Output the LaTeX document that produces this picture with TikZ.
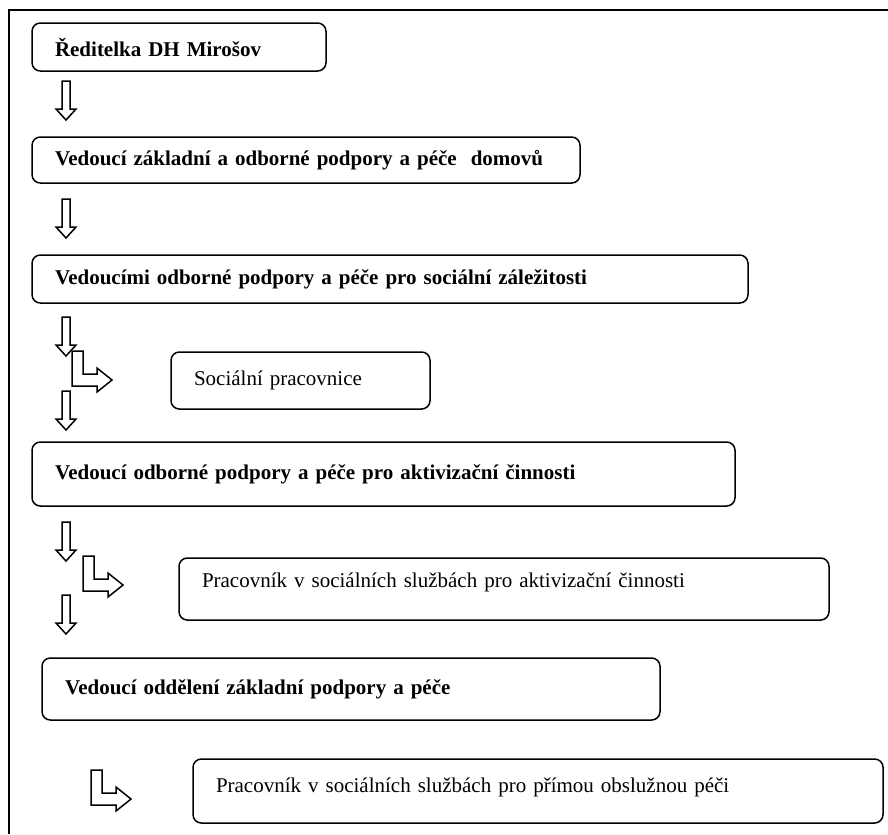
\documentclass[tikz,border=0pt]{standalone}
\usepackage{fontspec}
\setmainfont{Liberation Serif}
\tikzset{
  box/.style={draw, rounded corners=5pt, line width=0.9pt, anchor=north west,
    align=left, inner xsep=13.8pt, outer sep=0pt, font=\fontsize{12.6}{14}\selectfont},
  head/.style={box, font=\fontsize{12.6}{14}\selectfont\bfseries},
  arr/.style={draw, line width=0.9pt, line join=miter, fill=white},
  frame/.style={draw, line width=0.9pt}
}
% sipka dolu: stred x, horni y
\newcommand{\dnarr}[2]{\draw[arr] (#1-4,#2) -- (#1+4,#2) -- (#1+4,#2+28) -- (#1+10,#2+28) -- (#1,#2+39) -- (#1-10,#2+28) -- (#1-4,#2+28) -- cycle;}
% lomena sipka: levy x, horni y
\newcommand{\turnarr}[2]{\draw[arr] (#1,#2) -- (#1+11,#2) -- (#1+11,#2+23) -- (#1+25,#2+23) -- (#1+25,#2+17) -- (#1+40,#2+29) -- (#1+25,#2+41) -- (#1+25,#2+35) -- (#1,#2+35) -- cycle;}
\begin{document}
\begin{tikzpicture}[x=0.6pt, y=-0.6pt]
    \useasboundingbox (0,0) rectangle (888,834);
    \draw[frame] (9,834) -- (9,10) -- (888,10);
    % vedeni
    \node[head, text width=148.8pt, minimum height=28.8pt] (reditelka) at (32,23) {Ředitelka DH Mirošov};
    \node[head, text width=301.2pt, minimum height=27.6pt] (vedzakl) at (32,137) {Vedoucí základní a odborné podpory a péče\ \ domovů};
    \node[head, text width=402pt, minimum height=28.8pt] (vedsoc) at (32,255) {Vedoucími odborné podpory a péče pro sociální záležitosti};
    \node[box, text width=127.8pt, minimum height=34.2pt] (socprac) at (171,352) {Sociální pracovnice};
    \node[head, text width=394.2pt, minimum height=38.4pt] (vedakt) at (32,442) {Vedoucí odborné podpory a péče pro aktivizační činnosti};
    \node[box, text width=362.4pt, minimum height=37.2pt, text depth=11pt] (pracakt) at (179,558) {Pracovník v sociálních službách pro aktivizační činnosti};
    \node[head, text width=343.2pt, minimum height=37.2pt] (vedodd) at (42,658) {Vedoucí oddělení základní podpory a péče};
    \node[box, text width=386.4pt, minimum height=38.4pt, text depth=6.5pt] (pracpece) at (193,759) {Pracovník v sociálních službách pro přímou obslužnou péči};
    % sipky
    \dnarr{66}{81}
    \dnarr{66}{199}
    \dnarr{66}{317}
    \turnarr{72}{351}
    \dnarr{66}{391}
    \dnarr{66}{522}
    \turnarr{83}{556}
    \dnarr{66}{595}
    \turnarr{91}{770}
\end{tikzpicture}
\end{document}
